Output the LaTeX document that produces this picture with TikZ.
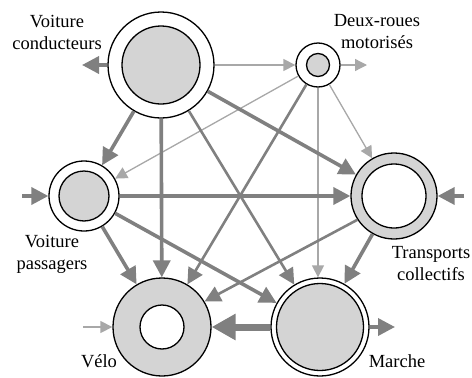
\documentclass[tikz,border=0pt]{standalone}
\usepackage{fontspec}
\setmainfont{Liberation Serif}
\usetikzlibrary{arrows.meta}
\definecolor{cfill}{HTML}{D4D4D4}
\definecolor{cline}{HTML}{808080}
\definecolor{clight}{HTML}{A8A8A8}
\tikzset{
  ring/.style={circle, draw=black, line width=1.3pt, inner sep=0pt},
  lbl/.style={align=center, font=\fontsize{18.5}{22}\selectfont, inner sep=0pt},
  thinarr/.style={draw=clight, line width=1.3pt, -{Triangle[length=12pt,width=12pt]}, fill=clight},
  medarr/.style={draw=cline, line width=2.6pt, -{Triangle[length=16pt,width=16pt]}, fill=cline},
  thickarr/.style={draw=cline, line width=3.6pt, -{Triangle[length=17pt,width=17pt]}, fill=cline},
  hugearr/.style={draw=cline, line width=7pt, -{Triangle[length=24pt,width=25pt]}, fill=cline}
}
\begin{document}
\begin{tikzpicture}[x=1pt,y=-1pt]
\useasboundingbox (0,0) rectangle (472,378);
% nodes
\node[ring, fill=white, minimum size=106pt] (vc) at (161,65) {};
\node[ring, fill=cfill, minimum size=78pt] (vci) at (vc) {};
\node[ring, fill=white, minimum size=44pt] (dr) at (318,65) {};
\node[ring, fill=cfill, minimum size=23pt] (dri) at (dr) {};
\node[ring, fill=white, minimum size=70pt] (vp) at (84,196) {};
\node[ring, fill=cfill, minimum size=50pt] (vpi) at (vp) {};
\node[ring, fill=cfill, minimum size=86pt] (tc) at (394,196) {};
\node[ring, fill=white, minimum size=64pt] (tci) at (tc) {};
\node[ring, fill=cfill, minimum size=98pt] (velo) at (162,327) {};
\node[ring, fill=white, minimum size=44pt] (veloi) at (velo) {};
\node[ring, fill=white, minimum size=98pt] (ma) at (320,327) {};
\node[ring, fill=cfill, minimum size=87pt] (mai) at (ma) {};
% labels
\node[lbl] (lvc) at (57,32) {Voiture\\conducteurs};
\node[lbl] (ldr) at (377,32) {Deux-roues\\motorisés};
\node[lbl] (lvp) at (52,254) {Voiture\\passagers};
\node[lbl] (ltc) at (431,264) {Transports\\collectifs};
\node[lbl] (lvelo) at (99,361) {Vélo};
\node[lbl] (lma) at (397,361) {Marche};
% external coordinates
\coordinate (vcout) at (82,65);
\coordinate (drout) at (367,65);
\coordinate (vpin) at (22,196);
\coordinate (tcin) at (464,196);
\coordinate (maout) at (395,327);
\coordinate (veloin) at (83,327);
% connectors
\draw[thinarr] (vc) -- (dr);
\draw[thinarr] (dr) -- (drout);
\draw[thinarr] (dr) -- (vp);
\draw[thinarr] (dr) -- (tc);
\draw[thinarr] (dr.south) -- (ma.north -| dr.south);
\draw[thinarr] (veloin) -- (velo);
\draw[medarr] (vc) -- (ma);
\draw[medarr] (dr) -- (velo);
\draw[medarr] (tc.213) -- (velo.31);
\draw[thickarr] (vc) -- (vcout);
\draw[thickarr] (vc) -- (vp);
\draw[thickarr] (vc) -- (velo);
\draw[thickarr] (vc) -- (tc);
\draw[thickarr] (vpin) -- (vp);
\draw[thickarr] (vp) -- (tc);
\draw[thickarr] (vp) -- (velo);
\draw[thickarr] (vp) -- (ma);
\draw[thickarr] (tc) -- (ma);
\draw[thickarr] (tcin) -- (tc);
\draw[thickarr] (ma) -- (maout);
\draw[hugearr] (ma) -- (velo);
\end{tikzpicture}
\end{document}
